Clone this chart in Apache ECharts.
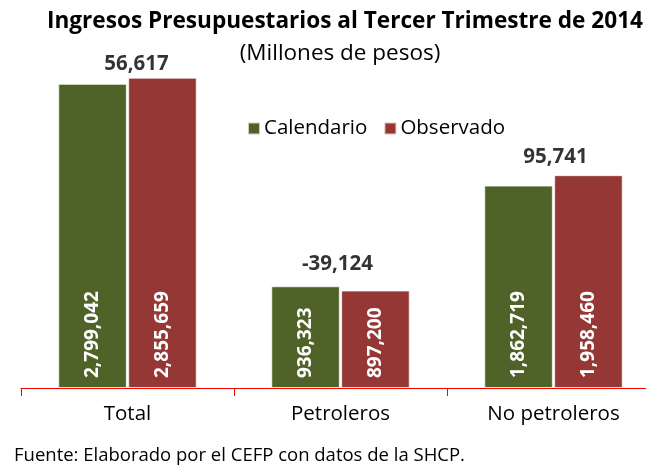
<!DOCTYPE html>
<html>
<head>
<meta charset="utf-8">
<script src="https://cdn.jsdelivr.net/npm/echarts@6/dist/echarts.min.js"></script>
<style>
  html, body { margin: 0; padding: 0; background: #fff; }
  #chart { width: 646px; height: 466px; }
</style>
</head>
<body>
<div id="chart"></div>
<script>
// datos del reporte
var categorias = ['Total', 'Petroleros', 'No petroleros'];
var calendario = [2799042, 936323, 1862719];
var observado = [2855659, 897200, 1958460];
var diferencia = [56617, -39124, 95741];

var FONT = 'Open Sans';

function miles(v) {
    return String(v).replace(/\B(?=(\d{3})+(?!\d))/g, ',');
}

// la etiqueta de diferencia va sobre la barra mas alta
var alturaDif = calendario.map(function (v, i) {
    return Math.max(v, observado[i]);
});
// ajuste fino de cada etiqueta (px)
var desplazDif = [[9, 3], [-3, -6], [2, -2]];

var etiquetaBarra = {
    show: true,
    position: 'insideBottom',
    rotate: 90,
    align: 'left',
    verticalAlign: 'middle',
    distance: 10,
    formatter: function (p) { return miles(p.value); },
    fontFamily: FONT,
    fontSize: 19,
    fontWeight: 'bold',
    color: '#fff'
};

var chart = echarts.init(document.getElementById('chart'));

var option = {
    animation: false,
    textStyle: { fontFamily: FONT },
    title: [{
        text: 'Ingresos Presupuestarios al Tercer Trimestre de 2014',
        left: 340,
        top: 5,
        textAlign: 'center',
        textStyle: { fontFamily: FONT, fontSize: 22.6, fontWeight: 'bold', color: '#000' }
    }, {
        text: '(Millones de pesos)',
        left: 335,
        top: 37,
        textAlign: 'center',
        textStyle: { fontFamily: FONT, fontSize: 22.5, fontWeight: 'normal', color: '#000' }
    }, {
        text: 'Fuente: Elaborado por el CEFP con datos de la SHCP.',
        left: 9,
        top: 441,
        textStyle: { fontFamily: FONT, fontSize: 18.5, fontWeight: 'normal', color: '#000' }
    }],
    legend: {
        left: 247,
        top: 118,
        padding: 0,
        itemWidth: 12,
        itemHeight: 12,
        itemGap: 16,
        icon: 'rect',
        data: ['Calendario', 'Observado'],
        textStyle: { fontFamily: FONT, fontSize: 20.5, color: '#000', padding: [0, 0, 0, -1] }
    },
    grid: {
        left: 21,
        width: 639,
        top: 62,
        bottom: 78,
        containLabel: false,
        outerBoundsMode: 'none'
    },
    xAxis: {
        type: 'category',
        data: categorias,
        axisLine: { lineStyle: { color: '#ff0000', width: 1 } },
        axisTick: { show: true, length: 8, alignWithLabel: false, lineStyle: { color: '#ff0000' } },
        axisLabel: { fontFamily: FONT, fontSize: 20.5, color: '#000', margin: 16 }
    },
    yAxis: {
        type: 'value',
        min: 0,
        max: 3000000,
        show: false
    },
    series: [{
        name: 'Calendario',
        type: 'bar',
        data: calendario,
        barCategoryGap: '35%',
        barGap: '2%',
        itemStyle: { color: '#4f6228', borderColor: 'rgba(255,255,255,0.7)', borderWidth: 1 },
        label: etiquetaBarra
    }, {
        name: 'Observado',
        type: 'bar',
        data: observado,
        itemStyle: { color: '#953735', borderColor: 'rgba(255,255,255,0.7)', borderWidth: 1 },
        label: etiquetaBarra
    }, {
        name: 'Diferencia',
        type: 'scatter',
        symbolSize: 0,
        silent: true,
        data: alturaDif.map(function (v, i) {
            return { value: v, label: { offset: desplazDif[i] } };
        }),
        label: {
            show: true,
            position: 'top',
            distance: 6,
            formatter: function (p) {
                var d = diferencia[p.dataIndex];
                return (d < 0 ? '-' : '') + miles(Math.abs(d));
            },
            fontFamily: FONT,
            fontSize: 20.5,
            fontWeight: 'bold',
            color: '#000'
        }
    }]
};

chart.setOption(option);
</script>
</body>
</html>
